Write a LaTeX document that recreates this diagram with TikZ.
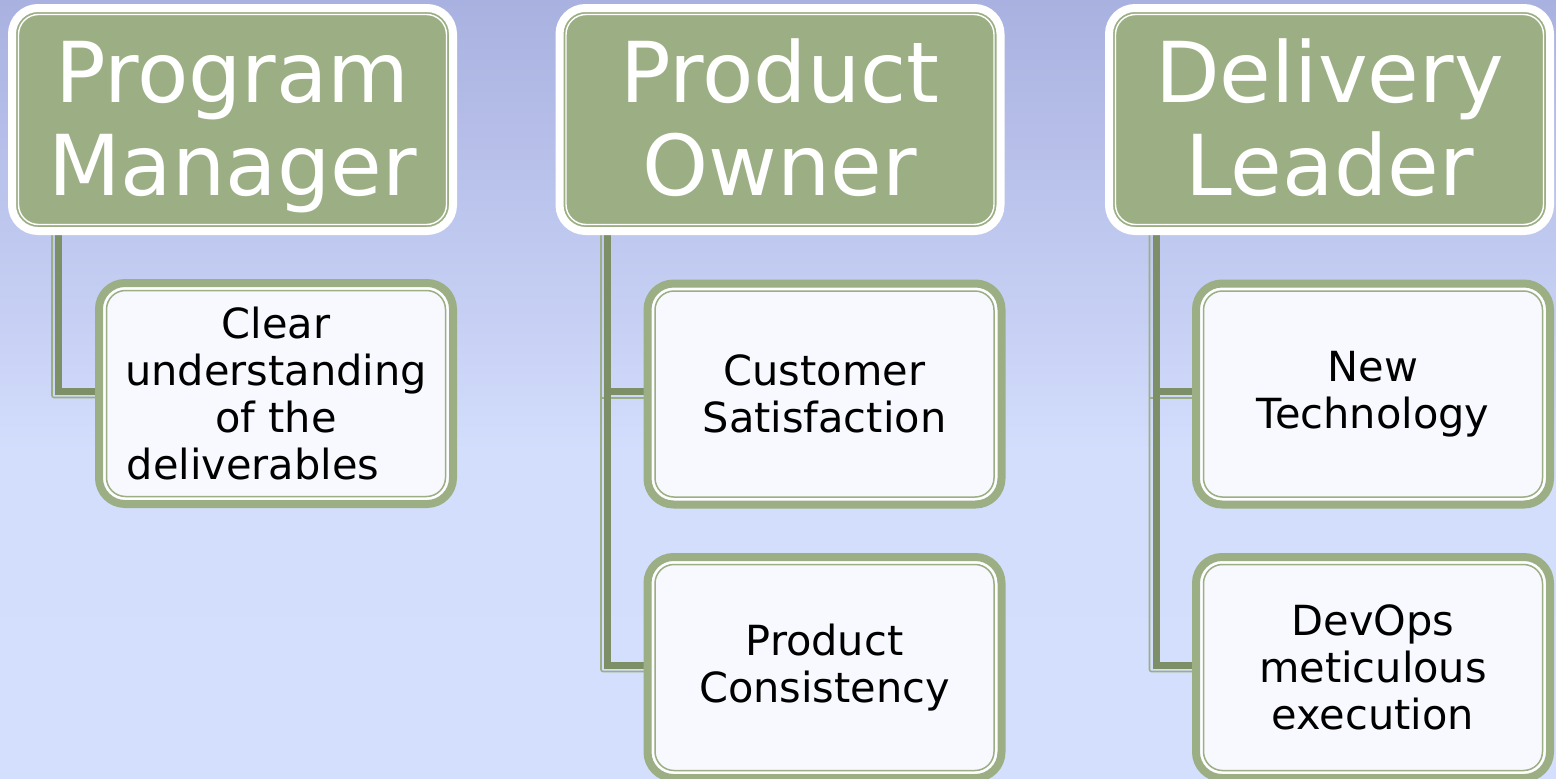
\documentclass[tikz,border=0pt]{standalone}
\usepackage{fontspec}
\setmainfont{DejaVu Sans}
\definecolor{bgtop}{HTML}{A9B1E0}
\definecolor{bgmid}{HTML}{D3DDFC}
\definecolor{bgbot}{HTML}{D4DEFD}
\definecolor{sage}{HTML}{9CAF84}
\definecolor{sagedark}{HTML}{7D8F66}
\definecolor{paper}{HTML}{F8F9FE}
\pgfdeclareverticalshading{bgshade}{100bp}{color(0bp)=(bgbot); color(25bp)=(bgbot); color(46bp)=(bgmid); color(75bp)=(bgtop); color(100bp)=(bgtop)}
\pgfdeclarelayer{back}
\pgfdeclarelayer{links}
\pgfsetlayers{back,links,main}
\tikzset{
  parentbox/.style={rectangle, rounded corners=26pt, draw=white, line width=8pt, fill=sage,
    minimum width=441pt, minimum height=223pt, inner sep=0pt, outer sep=0pt},
  ptext/.style={text=white, font=\fontsize{84}{93}\selectfont, align=center, inner sep=0pt},
  childbox/.style={rectangle, rounded corners=26pt, draw=sage, line width=8pt, fill=paper,
    minimum width=354pt, minimum height=221pt, align=center, text=black,
    font=\fontsize{41.5}{47}\selectfont, inner sep=0pt, outer sep=0pt},
  conn/.style={draw=sagedark, line width=7pt},
  connedge/.style={draw=sage, line width=1.6pt, rounded corners=2pt},
  pinner/.style={draw=white, line width=1.4pt, rounded corners=20pt},
  cwhite/.style={draw=white, line width=2pt, rounded corners=21pt},
  cgreen/.style={draw=sage, line width=1.5pt, rounded corners=19pt},
}
\begin{document}
\begin{tikzpicture}[x=1pt,y=-1pt]
\useasboundingbox (0,0) rectangle (1556,779);
\begin{pgfonlayer}{back}
\fill[shading=bgshade] (0,0) rectangle (1556,779);
\end{pgfonlayer}

% parent boxes
\node[parentbox] (pm) at (232.5,119.5) {};
\node[parentbox] (po) at (780,119.5) {};
\node[parentbox] (dl) at (1329.5,119.5) {};
\foreach \n in {pm,po,dl}{
  \draw[pinner] ([shift={(6.5,6.5)}]\n.north west) rectangle ([shift={(-6.5,-6.5)}]\n.south east);
}
\node[ptext] (pmt) at (232.5,126) {\vphantom{d}Program\\Manager\vphantom{g}};
\node[ptext] (pot) at (780,126) {\vphantom{d}Product\\Owner\vphantom{g}};
\node[ptext] (dlt) at (1329.5,126) {\vphantom{d}Delivery\\Leader\vphantom{g}};

% child boxes
\node[childbox] (pmc) at (276,393.5) {Clear\\understanding\\of the\\deliverables\hspace*{1.1em}};
\node[childbox] (poc1) at (824.5,394) {Customer\\Satisfaction};
\node[childbox] (poc2) at (824.5,667.5) {Product\\Consistency};
\node[childbox] (dlc1) at (1373,394) {New\\Technology};
\node[childbox] (dlc2) at (1373,667.5) {DevOps\\meticulous\\execution};
\foreach \n in {pmc,poc1,poc2,dlc1,dlc2}{
  \draw[cwhite] ([shift={(5.5,5.5)}]\n.north west) rectangle ([shift={(-5.5,-5.5)}]\n.south east);
  \draw[cgreen] ([shift={(7.5,7.5)}]\n.north west) rectangle ([shift={(-7.5,-7.5)}]\n.south east);
}

% junction coordinates under the parents
\coordinate (pmj) at ([xshift=-174pt]pm.south);
\coordinate (pme) at ([xshift=-6.5pt]pmj);
\coordinate (poj) at ([xshift=-172.5pt]po.south);
\coordinate (poe) at ([xshift=-6.5pt]poj);
\coordinate (dlj) at ([xshift=-173.5pt]dl.south);
\coordinate (dle) at ([xshift=-6.5pt]dlj);
\coordinate (pmce) at ([yshift=-4pt]pmc.west);
\coordinate (poc1e) at ([yshift=-4pt]poc1.west);
\coordinate (poc2e) at ([yshift=-4pt]poc2.west);
\coordinate (dlc1e) at ([yshift=-4pt]dlc1.west);
\coordinate (dlc2e) at ([yshift=-4pt]dlc2.west);

\begin{pgfonlayer}{links}
% thin light edge lines
\draw[connedge] (pme) |- (pmce);
\draw[connedge] (poe) |- (poc2e);
\draw[connedge] (poe |- poc1e) -- (poc1e);
\draw[connedge] (dle) |- (dlc2e);
\draw[connedge] (dle |- dlc1e) -- (dlc1e);
% thick dark lines
\draw[conn] (pmj) |- ([yshift=2.5pt]pmc.west);
\draw[conn] (poj) |- ([yshift=2.5pt]poc1.west);
\draw[conn] (poj) |- ([yshift=2.5pt]poc2.west);
\draw[conn] (dlj) |- ([yshift=2.5pt]dlc1.west);
\draw[conn] (dlj) |- ([yshift=2.5pt]dlc2.west);
\end{pgfonlayer}
\end{tikzpicture}
\end{document}
